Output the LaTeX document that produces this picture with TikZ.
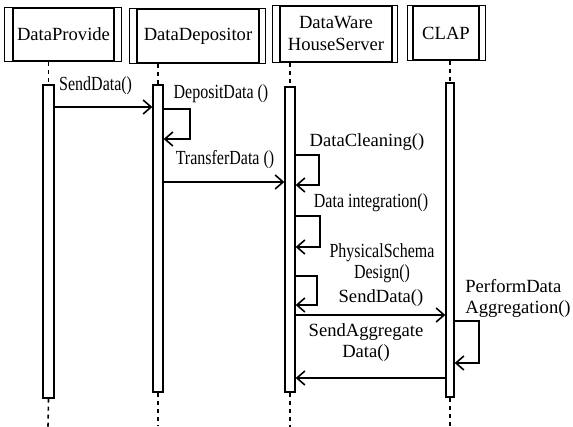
\documentclass[tikz,border=0pt]{standalone}
\usepackage{fontspec}
\setmainfont{Liberation Serif}
\usetikzlibrary{arrows.meta,calc}
% horizontally condensed label text, set a little larger
\newcommand{\narrow}[1]{\scalebox{0.8}[1]{\fontsize{20}{22}\selectfont #1}}
\begin{document}
\begin{tikzpicture}[x=1pt,y=-1pt,
  actor/.style={draw, line width=1.6pt, inner sep=0pt, align=center,
    font=\fontsize{18.6}{22}\selectfont},
  bar/.style={draw, line width=1.3pt, fill=white, inner sep=0pt, minimum width=10pt},
  life/.style={line width=1.6pt, dash pattern=on 4pt off 4pt},
  msg/.style={line width=1.4pt, -{Straight Barb[length=8pt,width=14pt,line width=1.6pt]}},
  lbl/.style={inner sep=0pt, align=center, font=\fontsize{18.6}{21}\selectfont}]
\useasboundingbox (0,0) rectangle (573,427);

% participant boxes (inner frame)
\node[actor, minimum width=101pt, minimum height=53pt] (p) at (63.5,34.5) {DataProvide};
\node[actor, minimum width=122pt, minimum height=54pt] (d) at (198,36) {\raisebox{2pt}{DataDepositor}};
\node[actor, minimum width=112pt, minimum height=56pt] (w) at (336,34) {DataWare\\HouseServer};
\node[actor, minimum width=66pt, minimum height=54pt] (c) at (446,33) {CLAP};
% outer frame with the doubled sides
\foreach \n/\l/\r in {p/8/7, d/7/6, w/7/5, c/5/6}
  \draw[line width=0.8pt] ([xshift=-\l pt]\n.north west) rectangle ([xshift=\r pt]\n.south east);

% activation bars
\node[bar, minimum height=313pt, minimum width=11pt] (b1) at (48.5,241.5) {};
\node[bar, minimum height=307pt] (b2) at (158,238.5) {};
\node[bar, minimum height=305pt] (b3) at (290,239.5) {};
\node[bar, minimum height=314pt, minimum width=8pt] (b4) at (450,240) {};

% lifelines
\coordinate (e1) at (48,427);
\coordinate (e2) at (158,426);
\coordinate (e3) at (290,427);
\coordinate (e4) at (450,427);
\draw[life] (b1.north |- p.south) -- (b1.north);
\draw[life] (b2.north |- d.south) -- (b2.north);
\draw[life] (b3.north |- w.south) -- (b3.north);
\draw[life] (b4.north |- c.south) -- (b4.north);
\draw[life] (b1.south) -- (e1);
\draw[life] (b2.south) -- (e2);
\draw[life] (b3.south) -- (e3);
\draw[life] (b4.south) -- (e4);

% messages
\draw[msg] (b1.east |- 0,107) -- (b2.west |- 0,107);
\node[lbl, anchor=west] (m1) at (59,86) {\narrow{SendData()}};

\draw[msg] (b2.east |- 0,109) -| (190,139) -- (b2.east |- 0,139);
\node[lbl] (m2) at (221,94) {\narrow{DepositData ()}};

\draw[msg] (b2.east |- 0,182) -- (b3.west |- 0,182);
\node[lbl] (m3) at (225,160) {\narrow{TransferData ()}};

\draw[msg] (b3.east |- 0,155) -| (319,185) -- (b3.east |- 0,185);
\node[lbl] (m4) at (367,142) {DataCleaning()};

\draw[msg] (b3.east |- 0,216) -| (320,247) -- (b3.east |- 0,247);
\node[lbl] (m5) at (371,203) {\narrow{Data integration()}};

\draw[msg] (b3.east |- 0,276) -| (317,305) -- (b3.east |- 0,305);
\node[lbl] (m6) at (382,263) {\narrow{PhysicalSchema}\\\narrow{Design()}};

\draw[msg] (b3.east |- 0,315) -- (b4.west |- 0,315);
\node[lbl] (m7) at (381,298) {SendData()};

\draw[msg] (b4.east |- 0,321) -| (479,363) -- (b4.east |- 0,363);
\node[lbl, align=left] (m8) at (518,298) {PerformData\\Aggregation()};

\draw[msg] (b4.west |- 0,378) -- (b3.east |- 0,378);
\node[lbl] (m9) at (366,343) {SendAggregate\\Data()};
\end{tikzpicture}
\end{document}
